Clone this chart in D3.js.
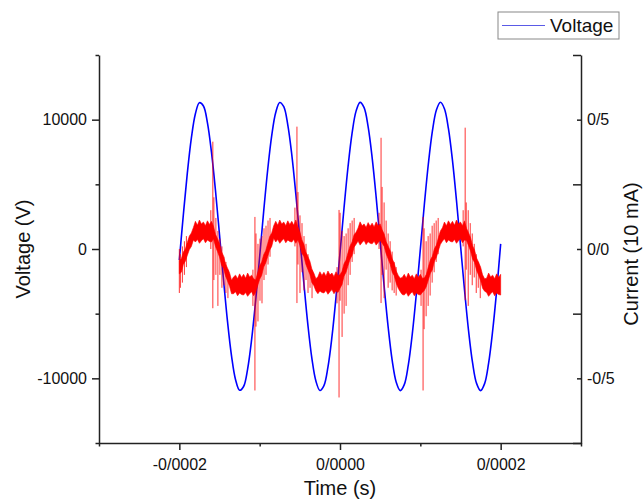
<!DOCTYPE html>
<html>
<head>
<meta charset="utf-8">
<script src="https://cdnjs.cloudflare.com/ajax/libs/d3/7.8.5/d3.min.js"></script>
<style>
  body { margin: 0; background: #fff; }
  svg { display: block; font-family: "Liberation Sans", Arial, sans-serif; }
</style>
</head>
<body>
<script>
// AXIS TICKS
const TIME_TICKS = [-0.0002, 0, 0.0002];
const TIME_MINOR = [-0.0003, -0.0001, 0.0001, 0.0003];
const VOLT_TICKS = [-10000, 0, 10000];
const VOLT_MINOR = [-15000, -5000, 5000, 15000];
const CURR_TICKS = [-0.5, 0, 0.5];
const CURR_MINOR = [-0.75, -0.25, 0.25, 0.75];

// VOLTAGE (V), one sample every 5 us starting at -200 us
const VOLT_TIME = d3.range(0, 81).map(i => -200 + 5 * i);
const VOLTAGE = [
  -850, 2650, 5900, 8590, 10460, 11310, 11060, 9750, 7490, 4520,
  1110, -2380, -5620, -8280, -10110, -10920, -10630, -9280, -6990, -3990,
  -580, 2910, 6130, 8770, 10560, 11330, 11000, 9600, 7280, 4260,
  840, -2640, -5850, -8460, -10210, -10940, -10560, -9130, -6780, -3740,
  -310, 3170, 6360, 8940, 10660, 11340, 10930, 9460, 7070, 4010,
  570, -2910, -6070, -8630, -10300, -10950, -10490, -8980, -6560, -3480,
  -30, 3440, 6590, 9110, 10750, 11350, 10850, 9300, 6850, 3750,
  300, -3170, -6300, -8790, -10390, -10950, -10410, -8820, -6340, -3220,
  400
];

// CURRENT (10 mA), max / min of the trace in 2.5 us bins starting at -200 us
const CURR_TIME = d3.range(0, 161).map(i => -200 + 2.5 * i);
const CURR_HI = [
  -0.044, -0.038, -0.012, 0.000, 0.026, 0.050, 0.062, 0.083,
  0.107, 0.092, 0.112, 0.097, 0.104, 0.090, 0.109, 0.095, 0.107,
  0.088, 0.057, 0.040, 0.021, -0.010, -0.027, -0.057, -0.074, -0.092, -0.121,
  -0.108, -0.101, -0.115, -0.096, -0.110, -0.098, -0.113, -0.093, -0.108, -0.101, -0.115,
  -0.120, -0.092, -0.065, -0.050, -0.022, -0.007, 0.021, 0.048, 0.062, 0.090,
  0.107, 0.092, 0.112, 0.097, 0.104, 0.090, 0.109, 0.095, 0.107, 0.092, 0.112,
  0.086, 0.067, 0.036, 0.019, -0.012, -0.029, -0.047, -0.078, -0.094, -0.115,
  -0.107, -0.088, -0.102, -0.090, -0.105, -0.085, -0.100, -0.093, -0.107, -0.088, -0.102,
  -0.100, -0.086, -0.057, -0.043, -0.014, 0.012, 0.027, 0.055, 0.065, 0.081,
  0.105, 0.090, 0.097, 0.083, 0.102, 0.088, 0.100, 0.085, 0.105, 0.090, 0.097,
  0.074, 0.058, 0.028, 0.011, -0.007, -0.038, -0.055, -0.085, -0.102, -0.113,
  -0.110, -0.098, -0.113, -0.093, -0.108, -0.101, -0.115, -0.096, -0.110, -0.098, -0.113,
  -0.112, -0.098, -0.069, -0.042, -0.028, 0.001, 0.015, 0.044, 0.070, 0.082,
  0.104, 0.090, 0.109, 0.095, 0.107, 0.092, 0.112, 0.097, 0.104, 0.090, 0.109,
  0.080, 0.063, 0.044, 0.013, -0.004, -0.035, -0.051, -0.070, -0.100, -0.115,
  -0.113, -0.093, -0.108, -0.101, -0.115, -0.096, -0.110, -0.098
];
const CURR_LO = [
  -0.096, -0.090, -0.060, -0.047, -0.024, -0.002, 0.010, 0.035,
  0.027, 0.037, 0.022, 0.032, 0.040, 0.024, 0.035, 0.029, 0.027,
  0.040, 0.010, -0.010, -0.031, -0.062, -0.075, -0.104, -0.124, -0.144, -0.173,
  -0.173, -0.165, -0.181, -0.170, -0.176, -0.178, -0.168, -0.183, -0.173, -0.165, -0.181,
  -0.167, -0.142, -0.117, -0.102, -0.070, -0.054, -0.029, -0.004, 0.010, 0.042,
  0.027, 0.037, 0.022, 0.032, 0.040, 0.024, 0.035, 0.029, 0.027, 0.037, 0.022,
  0.036, 0.015, -0.016, -0.029, -0.059, -0.079, -0.099, -0.130, -0.142, -0.162,
  -0.173, -0.162, -0.168, -0.170, -0.160, -0.175, -0.165, -0.157, -0.173, -0.162, -0.168,
  -0.152, -0.138, -0.105, -0.090, -0.064, -0.040, -0.025, 0.007, 0.018, 0.031,
  0.015, 0.025, 0.033, 0.017, 0.028, 0.022, 0.020, 0.030, 0.015, 0.025, 0.033,
  0.022, 0.010, -0.019, -0.039, -0.059, -0.090, -0.103, -0.132, -0.152, -0.165,
  -0.176, -0.178, -0.168, -0.183, -0.173, -0.165, -0.181, -0.170, -0.176, -0.178, -0.168,
  -0.160, -0.145, -0.119, -0.094, -0.080, -0.047, -0.032, -0.006, 0.018, 0.030,
  0.040, 0.024, 0.035, 0.029, 0.027, 0.037, 0.022, 0.032, 0.040, 0.024, 0.035,
  0.033, 0.013, -0.008, -0.039, -0.052, -0.082, -0.101, -0.122, -0.152, -0.163,
  -0.168, -0.183, -0.173, -0.165, -0.181, -0.170, -0.176, -0.178
];

// DISCHARGE SPIKES in the current trace: time (us), top, bottom (10 mA)
const SPIKE_T = [
  -200.0, -198.7, -196.2, -193.7, -191.2,
  -160.8, -158.3, -157.0, -154.5, -152.0, -149.5, -147.0, -144.5, -142.0, -139.5,
  -108.4, -105.9, -104.6, -102.1, -99.6, -97.1, -94.6, -92.1, -89.6, -87.1,
  -56.1, -53.6, -52.3, -49.8, -47.3, -44.8, -42.3, -39.8, -37.3, -34.8,
  -3.7, -1.2, 0.1, 2.6, 5.1, 7.6, 10.1, 12.6, 15.1, 17.6,
  48.6, 51.1, 52.4, 54.9, 57.4, 59.9, 62.4, 64.9, 67.4, 69.9,
  100.9, 103.4, 104.7, 107.2, 109.7, 112.2, 114.7, 117.2, 119.7, 122.2,
  153.3, 155.8, 157.1, 159.6, 162.1, 164.6, 167.1, 169.6, 172.1, 174.6
];
const SPIKE_HI = [
  0.00, -0.02, 0.01, 0.03, 0.05,
  0.15, 0.415, 0.20, 0.12, 0.07, 0.04, 0.01, -0.03, -0.05, -0.08,
  -0.08, 0.124, 0.06, 0.02, 0.04, 0.05, 0.08, 0.09, 0.11, 0.12,
  0.16, 0.473, 0.22, 0.13, 0.10, 0.05, 0.02, -0.02, -0.06, -0.08,
  -0.07, 0.151, 0.14, 0.07, 0.05, 0.06, 0.08, 0.10, 0.11, 0.12,
  0.14, 0.430, 0.24, 0.18, 0.11, 0.06, 0.03, -0.01, -0.05, -0.07,
  -0.08, 0.124, 0.08, 0.03, 0.05, 0.06, 0.09, 0.10, 0.11, 0.12,
  0.15, 0.469, 0.18, 0.15, 0.10, 0.06, 0.02, -0.02, -0.05, -0.08
];
const SPIKE_LO = [
  -0.17, -0.15, -0.13, -0.10, -0.07,
  0.00, -0.229, -0.12, -0.10, -0.22, -0.10, -0.15, -0.14, -0.17, -0.19,
  -0.22, -0.547, -0.30, -0.28, -0.20, -0.21, -0.12, -0.10, -0.06, -0.03,
  0.01, -0.209, -0.06, -0.17, -0.09, -0.16, -0.12, -0.17, -0.15, -0.19,
  -0.21, -0.574, -0.20, -0.34, -0.25, -0.22, -0.14, -0.10, -0.05, -0.02,
  0.00, -0.209, -0.10, -0.19, -0.08, -0.15, -0.13, -0.16, -0.17, -0.18,
  -0.22, -0.547, -0.31, -0.26, -0.22, -0.18, -0.13, -0.09, -0.05, -0.02,
  0.01, -0.198, -0.08, -0.22, -0.10, -0.14, -0.11, -0.17, -0.15, -0.19
];

// CONSTANTS
const WIDTH = 644;
const HEIGHT = 501;
const LEFT = 99;
const RIGHT = 581;
const TOP = 55;
const BOTTOM = 443;
const AXIS_COLOR = '#222';
const US = 1e-6;

// number format with "/" as decimal mark
const LOCALE = d3.formatLocale({decimal: '/', thousands: '', grouping: [3], currency: ['', ''], minus: '-'});

// SCALES
const X_SCALE = d3.scaleLinear().domain([-0.0003, 0.0003]).range([LEFT, RIGHT]);
const Y_VOLT = d3.scaleLinear().domain([-15000, 15000]).range([BOTTOM, TOP]);
const Y_CURR = d3.scaleLinear().domain([-0.75, 0.75]).range([BOTTOM, TOP]);

const svg = d3.select('body')
  .append('svg')
  .attr('width', WIDTH)
  .attr('height', HEIGHT);

// VOLTAGE LINE
const voltLine = d3.line()
  .x((d, i) => X_SCALE(VOLT_TIME[i] * US))
  .y(d => Y_VOLT(d))
  .curve(d3.curveCatmullRom);

svg.append('path')
  .datum(VOLTAGE)
  .attr('d', voltLine)
  .attr('fill', 'none')
  .attr('stroke', '#0000ff')
  .attr('stroke-width', 1.6);

// CURRENT BAND
const currArea = d3.area()
  .x((d, i) => X_SCALE(CURR_TIME[i] * US))
  .y0((d, i) => Y_CURR(CURR_LO[i]))
  .y1(d => Y_CURR(d));

svg.append('path')
  .datum(CURR_HI)
  .attr('d', currArea)
  .attr('fill', '#ff0000')
  .attr('stroke', '#ff0000')
  .attr('stroke-width', 0.6);

// CURRENT SPIKES
svg.append('g')
  .selectAll('line')
  .data(SPIKE_T)
  .enter()
  .append('line')
  .attr('x1', d => X_SCALE(d * US))
  .attr('x2', d => X_SCALE(d * US))
  .attr('y1', (d, i) => Y_CURR(SPIKE_HI[i]))
  .attr('y2', (d, i) => Y_CURR(SPIKE_LO[i]))
  .attr('stroke', '#ff0000')
  .attr('stroke-opacity', 0.8)
  .attr('stroke-width', 1);

// AXES
function styleAxis(g, size) {
  g.attr('font-family', '"Liberation Sans", Arial, sans-serif')
    .attr('font-size', size);
  g.selectAll('path, line').attr('stroke', AXIS_COLOR).attr('stroke-width', 1.5);
  g.selectAll('text').attr('fill', '#111');
}

// X-AXIS
svg.append('g')
  .attr('transform', 'translate(0,' + BOTTOM + ')')
  .call(d3.axisBottom(X_SCALE).tickValues(TIME_MINOR).tickSize(3.5).tickFormat(''))
  .call(g => g.select('.domain').remove())
  .call(g => styleAxis(g, 16));
svg.append('g')
  .attr('transform', 'translate(0,' + BOTTOM + ')')
  .call(d3.axisBottom(X_SCALE).tickValues(TIME_TICKS).tickSizeInner(7).tickSizeOuter(0)
    .tickPadding(9).tickFormat(LOCALE.format('.4f')))
  .call(g => styleAxis(g, 16));

// LEFT Y-AXIS
svg.append('g')
  .attr('transform', 'translate(' + LEFT + ',0)')
  .call(d3.axisLeft(Y_VOLT).tickValues(VOLT_MINOR).tickSize(3.5).tickFormat(''))
  .call(g => g.select('.domain').remove())
  .call(g => styleAxis(g, 16));
svg.append('g')
  .attr('transform', 'translate(' + LEFT + ',0)')
  .call(d3.axisLeft(Y_VOLT).tickValues(VOLT_TICKS).tickSizeInner(7).tickSizeOuter(0)
    .tickPadding(5).tickFormat(LOCALE.format('d')))
  .call(g => styleAxis(g, 16));

// RIGHT Y-AXIS (ticks point inward)
svg.append('g')
  .attr('transform', 'translate(' + RIGHT + ',0)')
  .call(d3.axisRight(Y_CURR).tickValues(CURR_MINOR).tickSize(-8).tickFormat(''))
  .call(g => g.select('.domain').remove())
  .call(g => styleAxis(g, 16));
svg.append('g')
  .attr('transform', 'translate(' + RIGHT + ',0)')
  .call(d3.axisRight(Y_CURR).tickValues(CURR_TICKS).tickSizeInner(-4).tickSizeOuter(0)
    .tickPadding(6).tickFormat(LOCALE.format('.1f')))
  .call(g => styleAxis(g, 16));

// AXIS TITLES
svg.append('text')
  .attr('x', (LEFT + RIGHT) / 2)
  .attr('y', 495)
  .attr('text-anchor', 'middle')
  .attr('font-size', 20)
  .attr('fill', '#111')
  .text('Time (s)');

svg.append('text')
  .attr('transform', 'translate(30,249) rotate(-90)')
  .attr('text-anchor', 'middle')
  .attr('font-size', 20)
  .attr('fill', '#111')
  .text('Voltage (V)');

svg.append('text')
  .attr('transform', 'translate(638,254) rotate(-90)')
  .attr('text-anchor', 'middle')
  .attr('font-size', 20)
  .attr('fill', '#111')
  .text('Current (10 mA)');

// LEGEND
const legend = svg.append('g')
  .attr('transform', 'translate(498,12)');
legend.append('rect')
  .attr('width', 121)
  .attr('height', 27)
  .attr('fill', '#fff')
  .attr('stroke', '#888')
  .attr('stroke-width', 1);
legend.append('line')
  .attr('x1', 4)
  .attr('x2', 47)
  .attr('y1', 13.5)
  .attr('y2', 13.5)
  .attr('stroke', '#5a5ae6')
  .attr('stroke-width', 1);
legend.append('text')
  .attr('x', 52)
  .attr('y', 20)
  .attr('font-size', 19)
  .attr('fill', '#111')
  .text('Voltage');
</script>
</body>
</html>
